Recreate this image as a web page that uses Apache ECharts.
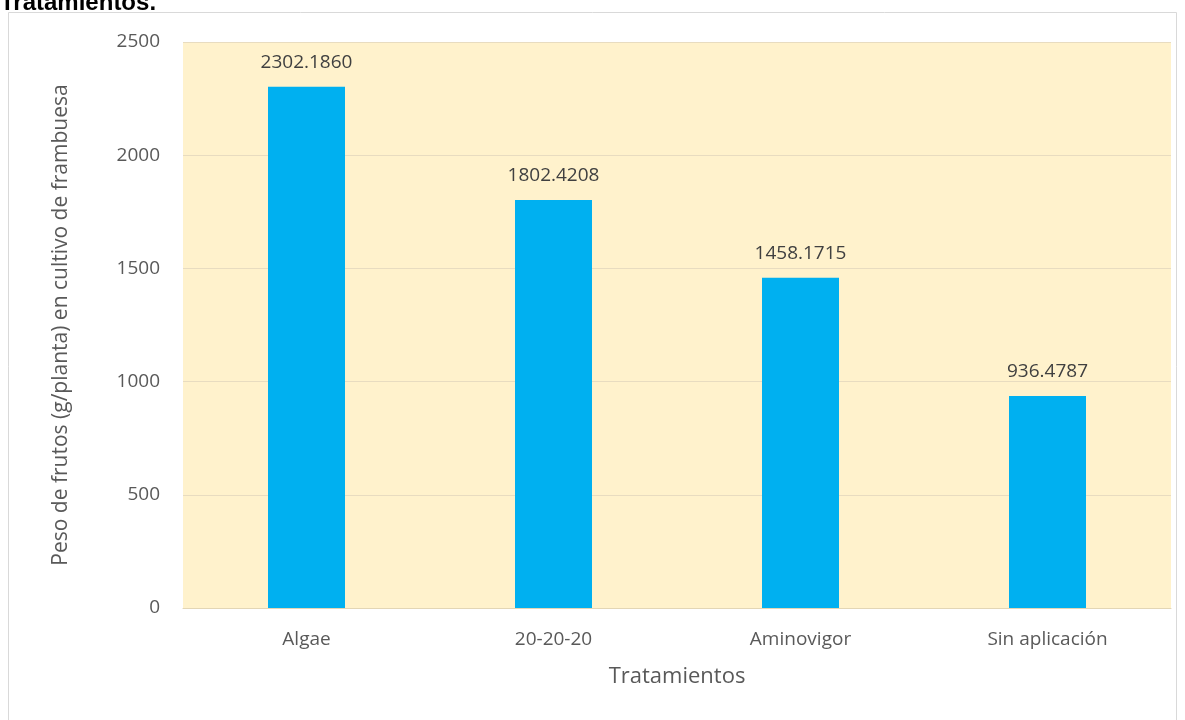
<!DOCTYPE html>
<html>
<head>
<meta charset="utf-8">
<script src="https://cdn.jsdelivr.net/npm/echarts@6/dist/echarts.min.js"></script>
<style>
  html, body { margin: 0; padding: 0; background: #fff; }
  #main { width: 1185px; height: 720px; }
</style>
</head>
<body>
<div id="main"></div>
<script>
// datos del gráfico
const tratamientos = ['Algae', '20-20-20', 'Aminovigor', 'Sin aplicación'];
const pesoFrutos = [2302.1860, 1802.4208, 1458.1715, 936.4787];
const yTicks = [0, 500, 1000, 1500, 2000, 2500];

const myChart = echarts.init(document.getElementById('main'));
const option = {
  backgroundColor: '#ffffff',
  textStyle: { fontFamily: 'Open Sans' },
  graphic: [
    {
      type: 'rect',
      shape: { x: 8.5, y: 12.5, width: 1168, height: 720 },
      style: { fill: 'none', stroke: '#d9d9d9', lineWidth: 1 }
    },
    {
      type: 'text',
      left: 0,
      top: -9,
      style: {
        text: 'Tratamientos.',
        font: 'bold 24px "Liberation Sans", Arial',
        fill: '#000'
      }
    }
  ],
  grid: {
    left: 183,
    right: 14,
    top: 42,
    bottom: 112,
    show: true,
    backgroundColor: '#fff2cc',
    borderWidth: 0
  },
  xAxis: {
    type: 'category',
    data: tratamientos,
    name: 'Tratamientos',
    nameLocation: 'middle',
    nameGap: 58,
    nameTextStyle: { fontSize: 22, color: '#595959' },
    axisLine: { show: true, lineStyle: { color: '#e3d6b5', width: 1 } },
    axisTick: { show: false },
    axisLabel: { fontSize: 19, color: '#595959', margin: 22 }
  },
  yAxis: {
    type: 'value',
    min: 0,
    max: 2500,
    interval: 500,
    name: 'Peso de frutos (g/planta) en cultivo de frambuesa',
    nameLocation: 'middle',
    nameGap: 111,
    nameRotate: 90,
    nameTextStyle: { fontSize: 21, color: '#595959' },
    axisLine: { show: false },
    axisTick: { show: false },
    axisLabel: {
      fontSize: 19,
      color: '#595959',
      margin: 23,
      formatter: v => (yTicks.includes(v) ? String(v) : '')
    },
    splitLine: { show: true, lineStyle: { color: '#e8dcc0', width: 1 } }
  },
  series: [
    {
      type: 'bar',
      data: pesoFrutos,
      barWidth: 77,
      itemStyle: { color: '#00b0f0' },
      label: {
        show: true,
        position: 'top',
        distance: 15,
        fontSize: 19,
        color: '#404040',
        formatter: p => p.value.toFixed(4)
      }
    }
  ]
};
myChart.setOption(option);
</script>
</body>
</html>
